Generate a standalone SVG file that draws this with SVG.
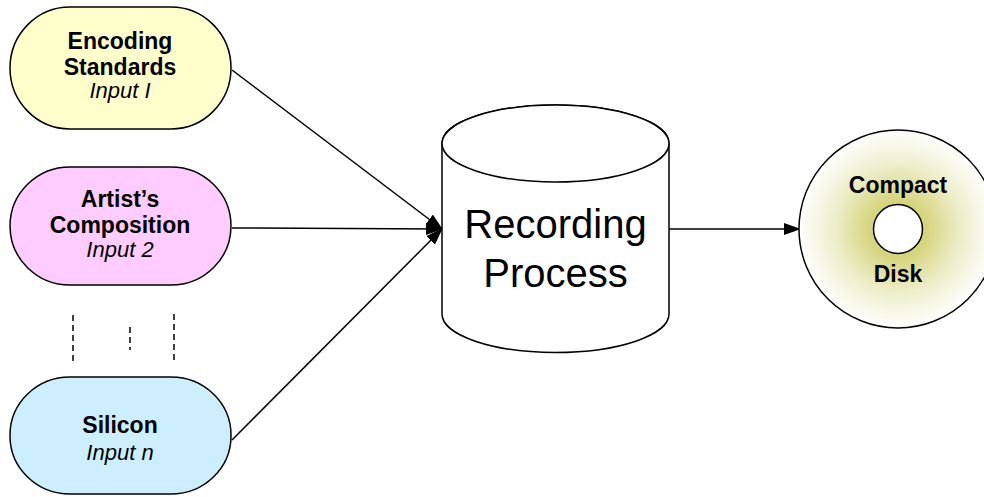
<svg xmlns="http://www.w3.org/2000/svg" width="984" height="497" viewBox="0 0 984 497">
<style>
.shape{stroke:#000;stroke-width:1.5}
.t{font-family:"Liberation Sans",Arial,sans-serif;fill:#000;text-anchor:middle}
.b{font-weight:bold;font-size:23px}
.i{font-style:italic;font-size:22px}
.big{font-size:40px}
.conn{stroke:#000;stroke-width:1.5;fill:none}
.dash{stroke:#000;stroke-width:1.5;stroke-dasharray:6 4;fill:none}
</style>
<defs>
<marker id="arr" markerUnits="userSpaceOnUse" markerWidth="17" markerHeight="12" refX="16" refY="6" orient="auto">
<path d="M0,0 L17,6 L0,12 z" fill="#000"/>
</marker>
<radialGradient id="cdg" cx="0.5" cy="0.5" r="0.5">
<stop offset="0" stop-color="#cccc60"/>
<stop offset="0.3" stop-color="#d6d680"/>
<stop offset="0.65" stop-color="#eeeecc"/>
<stop offset="1" stop-color="#ffffff"/>
</radialGradient>
</defs>
<rect width="984" height="497" fill="#fff"/>
<g id="connectors">
<line class="conn" x1="232" y1="70" x2="442" y2="229" marker-end="url(#arr)"/>
<line class="conn" x1="232" y1="228" x2="442" y2="229" marker-end="url(#arr)"/>
<line class="conn" x1="232" y1="440" x2="442" y2="229" marker-end="url(#arr)"/>
<line class="conn" x1="669" y1="229" x2="800" y2="229" marker-end="url(#arr)"/>
</g>
<g id="encoding">
<rect class="shape" x="10" y="7" width="221" height="122" rx="60" ry="61" fill="#ffffcc"/>
<text class="t b" x="120" y="49">Encoding</text>
<text class="t b" x="120" y="75">Standards</text>
<text class="t i" x="120" y="98">Input I</text>
</g>
<g id="artist">
<rect class="shape" x="10" y="167" width="221" height="118" rx="60" ry="59" fill="#ffccff"/>
<text class="t b" x="120" y="207">Artist’s</text>
<text class="t b" x="120" y="233">Composition</text>
<text class="t i" x="120" y="257">Input 2</text>
</g>
<g id="ellipsis">
<line class="dash" x1="73" y1="315" x2="73" y2="361"/>
<line class="dash" x1="130" y1="327" x2="130" y2="350"/>
<line class="dash" x1="174" y1="314" x2="174" y2="361"/>
</g>
<g id="silicon">
<rect class="shape" x="10" y="377" width="221" height="117" rx="60" ry="58" fill="#cceeff"/>
<text class="t b" x="120" y="433">Silicon</text>
<text class="t i" x="120" y="460">Input n</text>
</g>
<g id="recording">
<path class="shape" fill="#fff" d="M442,143.5 L442,314 A113.5,38.5 0 0 0 669,314 L669,143.5 A113.5,38.5 0 0 0 442,143.5 Z"/>
<ellipse class="shape" fill="#fff" cx="555.5" cy="143.5" rx="113.5" ry="38.5"/>
<text class="t big" x="555.5" y="238">Recording</text>
<text class="t big" x="555.5" y="287">Process</text>
</g>
<g id="cd">
<circle class="shape" cx="898" cy="229" r="99" fill="url(#cdg)"/>
<circle class="shape" cx="898" cy="229" r="24.5" fill="#fff"/>
<text class="t b" x="898" y="193">Compact</text>
<text class="t b" x="898" y="282">Disk</text>
</g>
</svg>
